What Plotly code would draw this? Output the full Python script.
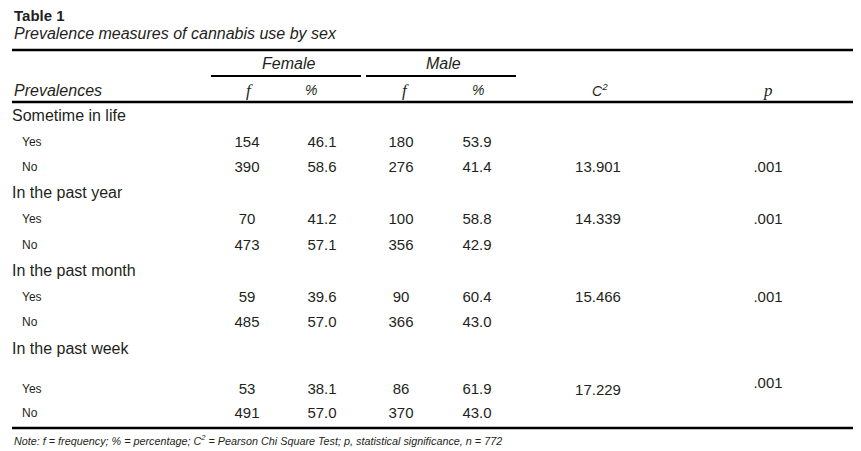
import plotly.graph_objects as go

# Table content
title = "Table 1"
subtitle = "Prevalence measures of cannabis use by sex"
groups = ["Female", "Male"]
col_headers = ["Prevalences", "f", "%", "f", "%", "C<sup>2</sup>", "p"]
sections = ["Sometime in life", "In the past year", "In the past month", "In the past week"]
answers = ["Yes", "No"]

female_f = [154, 390, 70, 473, 59, 485, 53, 491]
female_pct = ["46.1", "58.6", "41.2", "57.1", "39.6", "57.0", "38.1", "57.0"]
male_f = [180, 276, 100, 356, 90, 366, 86, 370]
male_pct = ["53.9", "41.4", "58.8", "42.9", "60.4", "43.0", "61.9", "43.0"]
chi_sq = ["13.901", "14.339", "15.466", "17.229"]
p_vals = [".001", ".001", ".001", ".001"]
note = ("<i>Note: f = frequency; % = percentage; C<sup>2</sup> = Pearson Chi Square Test; "
        "p, statistical significance, n = 772</i>")

# Layout (page pixel coordinates; the page body has an 8px margin)
W, H = 861, 451
OFF = 8
INK = "#231f20"
SANS = "Liberation Sans, Arial, sans-serif"
SERIF = "Liberation Serif, Times New Roman, serif"
col_x = [247, 322, 401, 477]
chi_x, p_x = 598, 768
section_y = [117, 194, 272, 350]
answer_y = [143, 168, 220, 246, 298, 323, 390, 414]
chi_y = [168, 220, 298, 391]
p_y = [168, 220, 298, 384]

fig = go.Figure()

# section labels
fig.add_trace(go.Scatter(
    x=[12] * len(sections), y=section_y, text=sections, mode="text",
    textposition="middle right", textfont=dict(family=SANS, size=16, color=INK),
    hoverinfo="skip", showlegend=False))

# Yes / No labels
fig.add_trace(go.Scatter(
    x=[22] * len(answer_y), y=answer_y, text=answers * len(sections), mode="text",
    textposition="middle right", textfont=dict(family=SANS, size=12, color=INK),
    hoverinfo="skip", showlegend=False))

# numeric columns
for cx, vals in zip(col_x, [female_f, female_pct, male_f, male_pct]):
    fig.add_trace(go.Scatter(
        x=[cx] * len(vals), y=answer_y, text=[str(v) for v in vals], mode="text",
        textposition="middle center", textfont=dict(family=SANS, size=15, color=INK),
        hoverinfo="skip", showlegend=False))

fig.add_trace(go.Scatter(
    x=[chi_x] * len(chi_sq), y=chi_y, text=chi_sq, mode="text",
    textposition="middle center", textfont=dict(family=SANS, size=15, color=INK),
    hoverinfo="skip", showlegend=False))
fig.add_trace(go.Scatter(
    x=[p_x] * len(p_vals), y=p_y, text=p_vals, mode="text",
    textposition="middle center", textfont=dict(family=SANS, size=15, color=INK),
    hoverinfo="skip", showlegend=False))

ann = [
    dict(x=12, y=15, text="<b>" + title + "</b>", xanchor="left",
         font=dict(family=SANS, size=15, color=INK)),
    dict(x=12, y=33, text="<i>" + subtitle + "</i>", xanchor="left",
         font=dict(family=SANS, size=16, color=INK)),
    dict(x=288, y=63, text="<i>" + groups[0] + "</i>", xanchor="center",
         font=dict(family=SANS, size=16, color=INK)),
    dict(x=443, y=63, text="<i>" + groups[1] + "</i>", xanchor="center",
         font=dict(family=SANS, size=16, color=INK)),
    dict(x=12, y=90, text="<i>" + col_headers[0] + "</i>", xanchor="left",
         font=dict(family=SANS, size=16, color=INK)),
    dict(x=12, y=440, text=note, xanchor="left",
         font=dict(family=SANS, size=10.8, color=INK)),
]
head_x = [249, 311, 405, 478, 600, 768]
head_font = [SERIF, SANS, SERIF, SANS, SANS, SERIF]
for hx, ht, hf in zip(head_x, col_headers[1:], head_font):
    ann.append(dict(x=hx, y=90, text="<i>" + ht + "</i>", xanchor="center",
                    font=dict(family=hf, size=17 if hf == SERIF else 14, color=INK)))
for a in ann:
    a.update(xref="x", yref="y", showarrow=False, yanchor="middle")

shapes = [
    dict(type="line", x0=12, x1=857, y0=50, y1=50, line=dict(color="black", width=2.5)),
    dict(type="line", x0=211, x1=361, y0=76, y1=76, line=dict(color="black", width=2)),
    dict(type="line", x0=366, x1=516, y0=76, y1=76, line=dict(color="black", width=2)),
    dict(type="line", x0=12, x1=857, y0=102, y1=102, line=dict(color="black", width=2.5)),
    dict(type="line", x0=12, x1=857, y0=428, y1=428, line=dict(color="black", width=2.5)),
]
for s in shapes:
    s.update(xref="x", yref="y")

fig.update_layout(
    width=W - OFF, height=H - OFF,
    margin=dict(l=0, r=0, t=0, b=0),
    paper_bgcolor="white", plot_bgcolor="white",
    xaxis=dict(range=[OFF, W], visible=False, fixedrange=True),
    yaxis=dict(range=[H, OFF], visible=False, fixedrange=True),
    annotations=ann, shapes=shapes,
)

fig.write_html("out.html")
